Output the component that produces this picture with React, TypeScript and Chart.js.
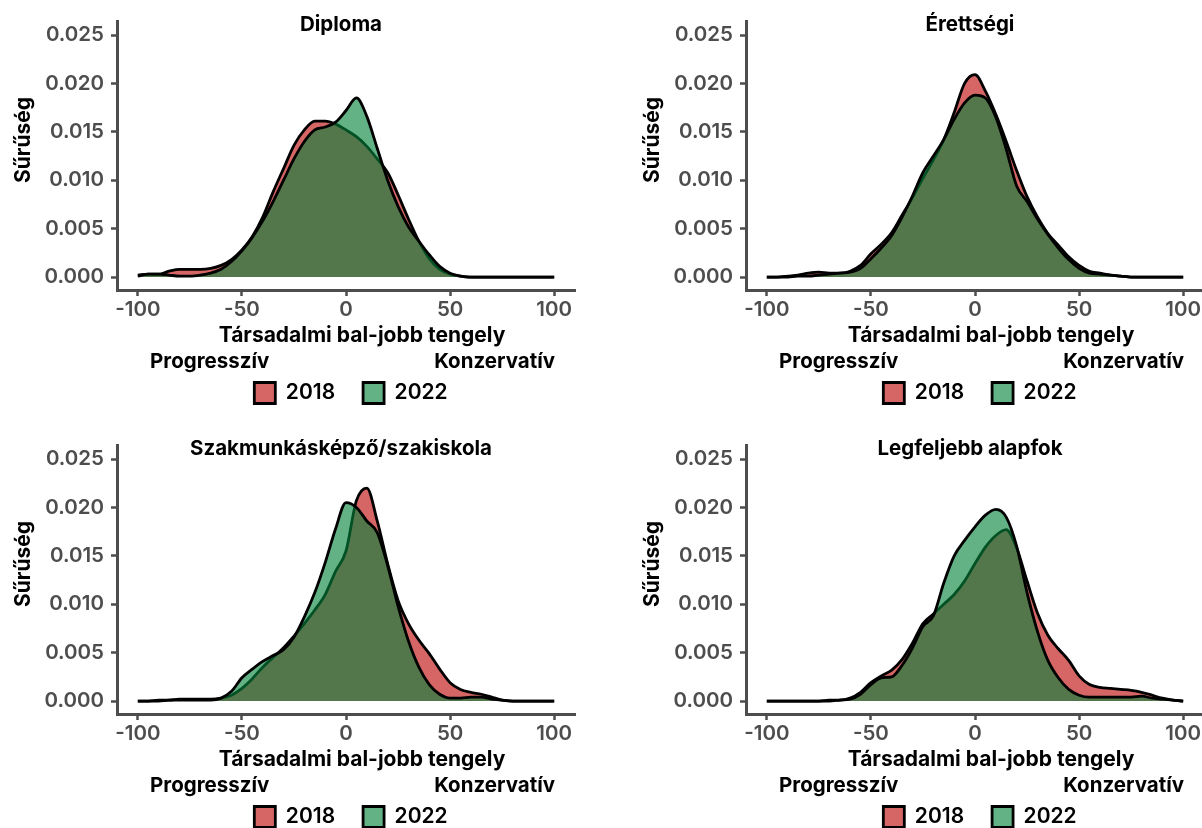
import React, { useEffect, useRef } from "react";
import { Chart, registerables } from "chart.js";

Chart.register(...registerables);

// ---------- data ----------
const X_VALUES = [
  -100, -95, -90, -85, -80, -75, -70, -65, -60, -55,
  -50, -45, -40, -35, -30, -25, -20, -15, -10, -5,
  0, 5, 10, 15, 20, 25, 30, 35, 40, 45,
  50, 55, 60, 65, 70, 75, 80, 85, 90, 95, 100,
];
const X_TICKS = [-100, -50, 0, 50, 100];
const Y_TICKS = [0, 0.005, 0.01, 0.015, 0.02, 0.025];
const YEARS = ["2018", "2022"];
const PANEL_TITLES = ["Diploma", "Érettségi", "Szakmunkásképző/szakiskola", "Legfeljebb alapfok"];
const Y_TITLE = "Sűrűség";
const X_TITLE = "Társadalmi bal-jobb tengely";
const LEFT_POLE = "Progresszív";
const RIGHT_POLE = "Konzervatív";

const diploma2018 = [
  0.0002, 0.0003, 0.0003, 0.0006, 0.0008, 0.0008, 0.0008, 0.0009, 0.0012, 0.0018,
  0.0028, 0.0042, 0.0062, 0.0088, 0.0112, 0.0136, 0.0152, 0.0161, 0.0161, 0.0158,
  0.0152, 0.0145, 0.0135, 0.0122, 0.0108, 0.0085, 0.0060, 0.0037, 0.0019, 0.0008,
  0.0003, 0.0001, 0, 0, 0, 0, 0, 0, 0, 0, 0,
];
const diploma2022 = [
  0.0001, 0.0003, 0.0003, 0.0002, 0.0001, 0.0001, 0.0002, 0.0004, 0.0008, 0.0016,
  0.0027, 0.0041, 0.0058, 0.0078, 0.0100, 0.0122, 0.0140, 0.0152, 0.0155, 0.0160,
  0.0172, 0.0185, 0.0166, 0.0133, 0.0100, 0.0073, 0.0052, 0.0037, 0.0023, 0.0011,
  0.0004, 0.0001, 0, 0, 0, 0, 0, 0, 0, 0, 0,
];
const erettsegi2018 = [
  0, 0, 0.0001, 0.0002, 0.0004, 0.0005, 0.0004, 0.0004, 0.0006, 0.0012,
  0.0024, 0.0034, 0.0046, 0.0064, 0.0082, 0.0102, 0.0121, 0.0142, 0.0170, 0.0200,
  0.0209, 0.0192, 0.0168, 0.0140, 0.0110, 0.0083, 0.0062, 0.0045, 0.0033, 0.0021,
  0.0012, 0.0006, 0.0004, 0.0002, 0.0001, 0, 0, 0, 0, 0, 0,
];
const erettsegi2022 = [
  0, 0, 0, 0.0001, 0.0001, 0.0002, 0.0003, 0.0004, 0.0005, 0.0009,
  0.0019, 0.0030, 0.0043, 0.0062, 0.0084, 0.0108, 0.0125, 0.0142, 0.0163, 0.0180,
  0.0188, 0.0185, 0.0165, 0.0132, 0.0094, 0.0078, 0.0060, 0.0044, 0.0030, 0.0018,
  0.0009, 0.0004, 0.0003, 0.0002, 0.0001, 0, 0, 0, 0, 0, 0,
];
const szakmunkas2018 = [
  0, 0, 0.0001, 0.0001, 0.0002, 0.0002, 0.0002, 0.0002, 0.0003, 0.0006,
  0.0013, 0.0023, 0.0035, 0.0045, 0.0055, 0.0067, 0.0080, 0.0094, 0.0110, 0.0134,
  0.0155, 0.0207, 0.0220, 0.0186, 0.0142, 0.0104, 0.0080, 0.0063, 0.0049, 0.0033,
  0.0019, 0.0012, 0.0009, 0.0007, 0.0004, 0.0001, 0, 0, 0, 0, 0,
];
const szakmunkas2022 = [
  0, 0, 0, 0.0001, 0.0001, 0.0001, 0.0001, 0.0001, 0.0003, 0.0010,
  0.0024, 0.0033, 0.0041, 0.0047, 0.0053, 0.0066, 0.0087, 0.0112, 0.0143, 0.0178,
  0.0205, 0.0200, 0.0186, 0.0174, 0.0140, 0.0098, 0.0062, 0.0035, 0.0017, 0.0007,
  0.0003, 0.0003, 0.0004, 0.0004, 0.0002, 0.0001, 0, 0, 0, 0, 0,
];
const alapfok2018 = [
  0, 0, 0, 0, 0, 0, 0.0001, 0.0001, 0.0003, 0.0009,
  0.0019, 0.0026, 0.0032, 0.0043, 0.0060, 0.0080, 0.0090, 0.0100, 0.0110, 0.0124,
  0.0142, 0.0159, 0.0171, 0.0177, 0.0158, 0.0124, 0.0091, 0.0068, 0.0054, 0.0042,
  0.0026, 0.0017, 0.0014, 0.0013, 0.0012, 0.0011, 0.0009, 0.0006, 0.0003, 0.0001, 0,
];
const alapfok2022 = [
  0, 0, 0, 0, 0, 0, 0, 0.0001, 0.0002, 0.0007,
  0.0017, 0.0024, 0.0025, 0.0037, 0.0055, 0.0077, 0.0088, 0.0122, 0.0150, 0.0166,
  0.0180, 0.0192, 0.0198, 0.0190, 0.0160, 0.0112, 0.0072, 0.0042, 0.0024, 0.0012,
  0.0006, 0.0004, 0.0004, 0.0004, 0.0004, 0.0004, 0.0005, 0.0003, 0.0002, 0.0001, 0,
];

const SERIES_2018 = [diploma2018, erettsegi2018, szakmunkas2018, alapfok2018];
const SERIES_2022 = [diploma2022, erettsegi2022, szakmunkas2022, alapfok2022];

// ---------- styles ----------
const RED = "rgba(189, 8, 8, 0.62)";
const GREEN = "rgba(3, 131, 60, 0.62)";
const AXIS_GREY = "#4d4d4d";
const FONT = "Inter";
const PANEL_W = 630;
const PANEL_H = 424;

function makeTextPlugin(title: string) {
  return {
    id: "panelText",
    afterLayout(chart: any) {
      const lg = chart.legend;
      if (lg) {
        lg.left += 5;
        lg.right += 5;
      }
    },
    afterDraw(chart: any) {
      const { ctx, chartArea } = chart;
      ctx.save();
      ctx.fillStyle = "#000";
      // panel title
      ctx.font = `bold 20.5px ${FONT}`;
      ctx.textAlign = "center";
      ctx.textBaseline = "middle";
      ctx.fillText(title, chartArea.left + 224, chartArea.top + 4);
      // y title
      ctx.save();
      ctx.translate(chartArea.left - 93, chartArea.top + 119);
      ctx.rotate(-Math.PI / 2);
      ctx.font = `bold 21px ${FONT}`;
      ctx.fillText(Y_TITLE, 0, 0);
      ctx.restore();
      // x title
      ctx.font = `bold 21px ${FONT}`;
      ctx.textAlign = "center";
      ctx.fillText(X_TITLE, chartArea.left + 245, chartArea.bottom + 46);
      // poles
      ctx.font = `bold 20.5px ${FONT}`;
      ctx.textAlign = "left";
      ctx.fillText(LEFT_POLE, chartArea.left + 33, chartArea.bottom + 72);
      ctx.textAlign = "right";
      ctx.fillText(RIGHT_POLE, chartArea.right - 20, chartArea.bottom + 72);
      ctx.restore();
    },
  };
}

function Panel({ index, left, top }: { index: number; left: number; top: number }) {
  const ref = useRef<HTMLCanvasElement | null>(null);
  useEffect(() => {
    const canvas = ref.current;
    if (!canvas) return;
    const s2018 = SERIES_2018[index];
    const s2022 = SERIES_2022[index];
    const lineStyle = {
      borderColor: "#000",
      borderWidth: 2.8,
      fill: "origin",
      pointRadius: 0,
      cubicInterpolationMode: "monotone",
    };
    const chart = new Chart(canvas, {
      type: "line",
      data: {
        datasets: [
          {
            label: YEARS[0],
            data: X_VALUES.map((x, i) => ({ x, y: s2018[i] })),
            backgroundColor: RED,
            order: 1,
            ...lineStyle,
          },
          {
            label: YEARS[1],
            data: X_VALUES.map((x, i) => ({ x, y: s2022[i] })),
            backgroundColor: GREEN,
            order: 0,
            ...lineStyle,
          },
        ],
      },
      options: {
        animation: false,
        responsive: false,
        maintainAspectRatio: false,
        events: [],
        layout: { padding: { left: 0, right: 55, top: 21, bottom: 10.5 } },
        scales: {
          x: {
            type: "linear",
            min: -110,
            max: 110,
            afterBuildTicks: (scale: any) => {
              scale.ticks = X_TICKS.map((value) => ({ value }));
            },
            afterFit: (scale: any) => {
              scale.height = 64.5;
            },
            ticks: {
              color: AXIS_GREY,
              font: { family: FONT, size: 20.5, weight: "600" },
              padding: 2,
              maxRotation: 0,
              callback: (v: any) => String(v),
            },
            grid: {
              drawOnChartArea: false,
              drawTicks: true,
              tickLength: 6,
              tickColor: AXIS_GREY,
              tickWidth: 2.5,
            },
            border: { display: true, color: AXIS_GREY, width: 3 },
          },
          y: {
            type: "linear",
            min: -0.00134,
            max: 0.02645,
            afterBuildTicks: (scale: any) => {
              scale.ticks = Y_TICKS.map((value) => ({ value }));
            },
            afterFit: (scale: any) => {
              scale.width = 117;
            },
            ticks: {
              color: AXIS_GREY,
              font: { family: FONT, size: 20.5, weight: "600" },
              padding: 7,
              callback: (v: any) => Number(v).toFixed(3),
            },
            grid: {
              drawOnChartArea: false,
              drawTicks: true,
              tickLength: 6,
              tickColor: AXIS_GREY,
              tickWidth: 2.5,
            },
            border: { display: true, color: AXIS_GREY, width: 3 },
          },
        },
        plugins: {
          legend: {
            display: true,
            position: "bottom",
            fullSize: false,
            align: "center",
            labels: {
              boxWidth: 21,
              boxHeight: 21,
              padding: 28,
              color: "#000",
              font: { family: FONT, size: 21, weight: "600" },
              sort: (a: any, b: any) => a.datasetIndex - b.datasetIndex,
            },
          },
          tooltip: { enabled: false },
          title: { display: false },
        },
      } as any,
      plugins: [makeTextPlugin(PANEL_TITLES[index])],
    } as any);
    return () => chart.destroy();
  }, [index]);
  return (
    <canvas
      ref={ref}
      width={PANEL_W}
      height={PANEL_H}
      style={{ position: "absolute", left, top, width: PANEL_W, height: PANEL_H }}
    />
  );
}

export default function App() {
  return (
    <div
      style={{
        position: "absolute",
        left: 0,
        top: 0,
        width: 1202,
        height: 828,
        overflow: "hidden",
        background: "#fff",
      }}
    >
      <Panel index={0} left={0} top={0} />
      <Panel index={1} left={629} top={0} />
      <Panel index={2} left={0} top={424} />
      <Panel index={3} left={629} top={424} />
    </div>
  );
}
